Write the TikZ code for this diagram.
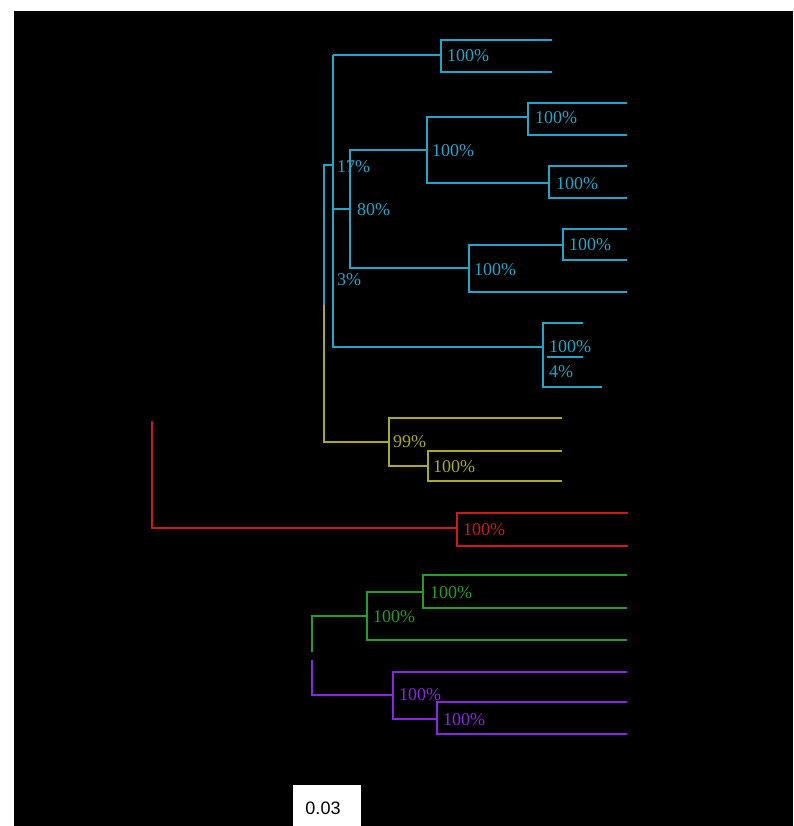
\documentclass[tikz,border=0pt]{standalone}
\usepackage{fontspec}
\setmainfont{Liberation Serif}
\newfontfamily\scalefont{Liberation Sans}
\definecolor{cyanc}{RGB}{35,165,200}
\definecolor{yelc}{RGB}{170,170,35}
\definecolor{redc}{RGB}{205,25,25}
\definecolor{grnc}{RGB}{40,155,40}
\definecolor{purc}{RGB}{135,40,225}
\begin{document}
\begin{tikzpicture}[x=1pt,y=-1pt,
  br/.style={line width=2.2pt},
  lab/.style={anchor=west,inner sep=0pt,font=\fontsize{18}{18}\selectfont}]
\useasboundingbox (0,0) rectangle (793,826);
\fill[white] (0,0) rectangle (793,826);
\fill[black] (14,11) rectangle (793,826);
% ---------------- cyan clade
\coordinate (R1) at (324,305);
\coordinate (C0) at (333,165);
\coordinate (C0t) at (333,55);
\coordinate (T) at (441,55);
\coordinate (M) at (350,209);
\coordinate (B) at (543,347);
\coordinate (N1) at (427,150);
\coordinate (N2) at (469,268);
\coordinate (N3) at (528,117);
\coordinate (N4) at (549,183);
\coordinate (N5) at (563,245);
\coordinate (Y0) at (389,442);
\coordinate (Y1) at (428,466);
\begin{scope}[cyanc,br]
\draw (R1) |- (C0);
\draw (C0t) -- (C0) |- (M);
\draw (C0t) -- (T);
\draw (C0) |- (B);
\draw (T) |- (552,40); \draw (T) |- (552,72);
\draw (M) |- (N1); \draw (M) |- (N2);
\draw (N1) |- (N3); \draw (N1) |- (N4);
\draw (N3) |- (627,103); \draw (N3) |- (627,135);
\draw (N4) |- (627,166); \draw (N4) |- (627,198);
\draw (N2) |- (N5); \draw (N2) |- (627,292);
\draw (N5) |- (627,229); \draw (N5) |- (627,260);
\draw (B) |- (583,323); \draw (B) |- (602,387);
\draw (547,357) -- (583,357);
\end{scope}
\begin{scope}[cyanc]
\node[lab] (l1) at (447,56) {100\%};
\node[lab] (l2) at (535,118) {100\%};
\node[lab] (l3) at (432,151) {100\%};
\node[lab] (l4) at (337,167) {17\%};
\node[lab] (l5) at (556,184) {100\%};
\node[lab] (l6) at (357,210) {80\%};
\node[lab] (l7) at (569,245) {100\%};
\node[lab] (l8) at (474,270) {100\%};
\node[lab] (l9) at (337,280) {3\%};
\node[lab] (l10) at (549,347) {100\%};
\node[lab] (l11) at (549,372) {4\%};
\end{scope}
% ---------------- yellow clade
\begin{scope}[yelc,br]
\draw (R1) |- (Y0);
\draw (Y0) |- (562,418); \draw (Y0) |- (Y1);
\draw (Y1) |- (562,451); \draw (Y1) |- (562,481);
\end{scope}
\node[lab,yelc] (l12) at (393,442) {99\%};
\node[lab,yelc] (l13) at (433,467) {100\%};
% ---------------- red clade
\coordinate (Rr) at (152,421);
\coordinate (R0) at (457,528);
\begin{scope}[redc,br]
\draw (Rr) |- (R0);
\draw (R0) |- (628,513); \draw (R0) |- (628,546);
\end{scope}
\node[lab,redc] (l14) at (463,530) {100\%};
% ---------------- green / purple clades
\coordinate (Gr) at (312,652);
\coordinate (Pr) at (312,660);
\coordinate (G0) at (367,616);
\coordinate (G1) at (423,592);
\coordinate (P0) at (393,695);
\coordinate (P1) at (437,719);
\begin{scope}[grnc,br]
\draw (Gr) |- (G0);
\draw (G0) |- (G1); \draw (G0) |- (627,640);
\draw (G1) |- (627,575); \draw (G1) |- (627,608);
\end{scope}
\node[lab,grnc] (l15) at (430,593) {100\%};
\node[lab,grnc] (l16) at (373,617) {100\%};
\begin{scope}[purc,br]
\draw (Pr) |- (P0);
\draw (P0) |- (627,672); \draw (P0) |- (P1);
\draw (P1) |- (627,702); \draw (P1) |- (627,734);
\end{scope}
\node[lab,purc] (l17) at (399,695) {100\%};
\node[lab,purc] (l18) at (443,720) {100\%};
% ---------------- scale box
\fill[white] (293,785) rectangle (361,826);
\node[inner sep=0pt,font=\scalefont\fontsize{18}{18}\selectfont] (sc) at (323,808) {0.03};
\end{tikzpicture}
\end{document}
